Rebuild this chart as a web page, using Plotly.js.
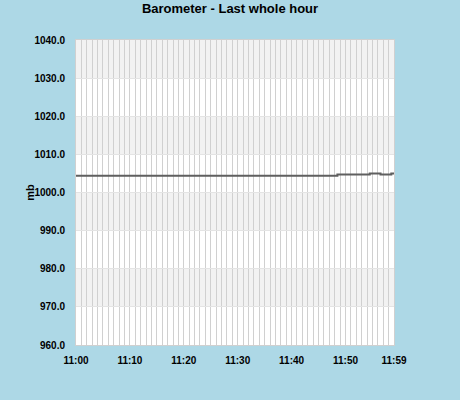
<!DOCTYPE html>
<html><head><meta charset="utf-8">
<script src="https://cdn.plot.ly/plotly-3.0.1.min.js"></script>
<style>html,body{margin:0;padding:0;background:#add8e6;}#c{width:460px;height:400px;}</style>
</head><body><div id="c"></div>
<script>
// minute index within the hour (11:00 = 0 ... 11:59 = 59)
var minutes = [0,1,2,3,4,5,6,7,8,9,10,11,12,13,14,15,16,17,18,19,20,21,22,23,24,25,26,27,28,29,
               30,31,32,33,34,35,36,37,38,39,40,41,42,43,44,45,46,47,48,49,50,51,52,53,54,55,56,57,58,59];
var pressure = [1004.4,1004.4,1004.4,1004.4,1004.4,1004.4,1004.4,1004.4,1004.4,1004.4,
                1004.4,1004.4,1004.4,1004.4,1004.4,1004.4,1004.4,1004.4,1004.4,1004.4,
                1004.4,1004.4,1004.4,1004.4,1004.4,1004.4,1004.4,1004.4,1004.4,1004.4,
                1004.4,1004.4,1004.4,1004.4,1004.4,1004.4,1004.4,1004.4,1004.4,1004.4,
                1004.4,1004.4,1004.4,1004.4,1004.4,1004.4,1004.4,1004.4,1004.4,1004.7,
                1004.7,1004.7,1004.7,1004.7,1004.7,1005.0,1005.0,1004.7,1004.7,1005.0];
var xTickVals = [0,10,20,30,40,50,59];
var xTickText = ["11:00","11:10","11:20","11:30","11:40","11:50","11:59"];
var yTickVals = [960,970,980,990,1000,1010,1020,1030,1040];
var shadedBandStarts = [970,990,1010,1030];

var shapes = shadedBandStarts.map(function(b){
  return {type:'rect', xref:'paper', yref:'y', x0:0, x1:1, y0:b, y1:b+10,
          fillcolor:'#f2f2f2', line:{width:0}, layer:'below'};
});

var trace = {x:minutes, y:pressure, type:'scatter', mode:'lines',
  line:{color:'#5f5f5f', width:2, shape:'hvh'}, hoverinfo:'none'};

var font = {family:'"Liberation Sans", Arial, sans-serif', size:10, color:'#000'};

var layout = {
  width:460, height:400,
  paper_bgcolor:'#add8e6', plot_bgcolor:'#ffffff',
  margin:{l:76, r:66, t:40, b:55},
  showlegend:false,
  title:{text:'<b>Barometer - Last whole hour</b>', x:0.5, xanchor:'center', y:0.99, yanchor:'top',
         font:{family:'"Liberation Sans", Arial, sans-serif', size:13, color:'#000'}},
  shapes:shapes,
  xaxis:{range:[0,59], tickvals:xTickVals, ticktext:xTickText.map(function(t){return '<b>'+t+'</b>';}),
         showgrid:false, zeroline:false, ticks:'outside', ticklen:6, tickcolor:'rgba(0,0,0,0)',
         tickfont:font, showline:true, linecolor:'#d0d0d0', linewidth:1, mirror:true,
         minor:{dtick:1, tick0:0, showgrid:true, gridcolor:'#d0d0d0', gridwidth:1, ticks:''}},
  yaxis:{range:[960,1040], tickvals:yTickVals,
         ticktext:yTickVals.map(function(v){return '<b>'+v.toFixed(1)+'</b>';}),
         showgrid:true, gridcolor:'#e4e4e4', gridwidth:1, zeroline:false,
         ticks:'outside', ticklen:8, tickcolor:'rgba(0,0,0,0)', tickfont:font,
         showline:true, linecolor:'#d0d0d0', linewidth:1, mirror:true,
         title:{text:'<b>mb</b>', standoff:0, font:{family:'"Liberation Sans", Arial, sans-serif', size:11, color:'#000'}}}
};

Plotly.newPlot('c', [trace], layout, {staticPlot:true, displayModeBar:false}).then(function(){
  // nudge the y-axis title closer to the tick labels, as in the reference
  var t = document.querySelector('.g-ytitle text');
  if (t) {
    var y = parseFloat(t.getAttribute('y'));
    var nx = 34;
    t.setAttribute('x', nx);
    t.setAttribute('transform', 'rotate(-90,' + nx + ',' + y + ')');
  }
});
</script></body></html>
